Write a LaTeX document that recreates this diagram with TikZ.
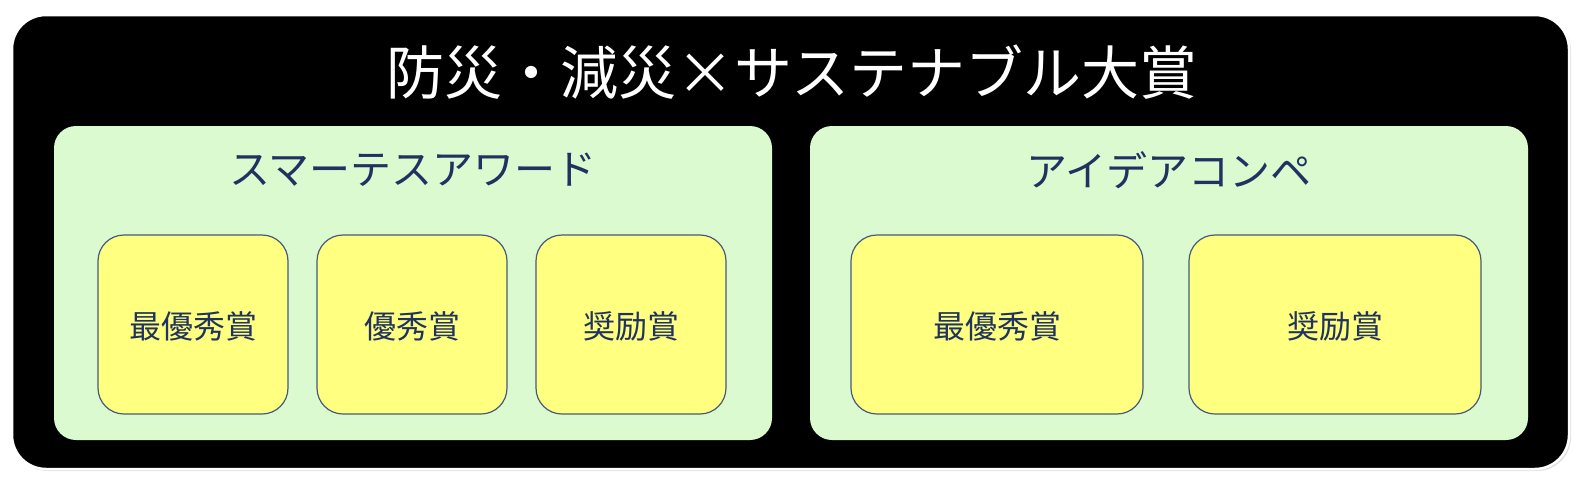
\documentclass[tikz,border=0pt]{standalone}
\usepackage{fontspec}
\setmainfont{Noto Sans CJK JP}
\usetikzlibrary{positioning, shadows}
\definecolor{panelgreen}{RGB}{219,250,208}
\definecolor{prizeyellow}{RGB}{255,255,128}
\definecolor{navy}{RGB}{31,50,96}
\definecolor{edgeblue}{RGB}{70,90,125}

\begin{document}
\begin{tikzpicture}[
  x=1pt, y=-1pt,
  frame/.style={draw=white, line width=2.5pt, fill=black, rounded corners=34pt,
    drop shadow={opacity=0.25, shadow xshift=2pt, shadow yshift=-2pt}},
  panel/.style={fill=panelgreen, rounded corners=22pt},
  prize/.style={draw=edgeblue, line width=1.2pt, fill=prizeyellow, rounded corners=26pt},
  heading/.style={font=\fontsize{41}{41}\selectfont, text=navy, inner sep=0pt},
  award/.style={font=\fontsize{32}{32}\selectfont, text=navy, inner sep=0pt}
]
  \useasboundingbox (0,0) rectangle (1588,490);
  % outer frame
  \draw[frame] (12,15) rectangle (1569,469);
  \node[font=\fontsize{58}{58}\selectfont, text=white, inner sep=0pt] (title) at (792,72)
    {防災・減災×サステナブル大賞};
  % panels
  \fill[panel] (54,126) rectangle (772,440);
  \fill[panel] (810,126) rectangle (1528,440);
  \node[heading] (smart) at (413,170) {スマーテスアワード};
  \node[heading] (idea) at (1169,170) {アイデアコンペ};
  % prizes, left panel
  \foreach \x/\name/\txt in {98/sa/最優秀賞, 317/sb/優秀賞, 536/sc/奨励賞} {
    \draw[prize] (\x,235) rectangle ++(190,179);
    \node[award] (\name) at (\x+95,326) {\txt};
  }
  % prizes, right panel
  \foreach \x/\name/\txt in {851/ia/最優秀賞, 1189/ib/奨励賞} {
    \draw[prize] (\x,235) rectangle ++(292,179);
    \node[award] (\name) at (\x+146,326) {\txt};
  }
\end{tikzpicture}
\end{document}
